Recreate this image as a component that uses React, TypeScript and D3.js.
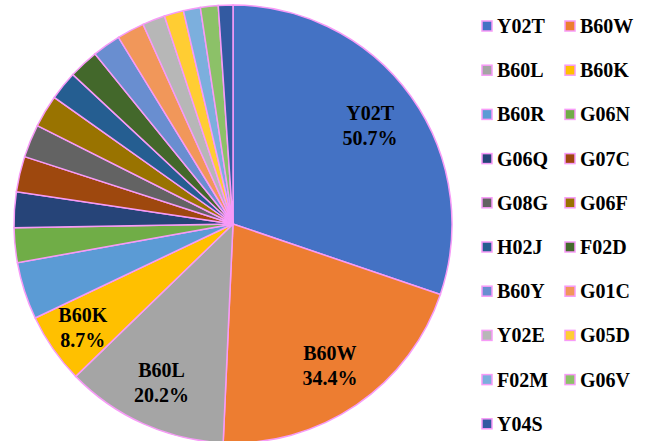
import React from "react";
import { pie, arc, PieArcDatum } from "d3";

const categories = [
  "Y02T", "B60W", "B60L", "B60K", "B60R", "G06N", "G06Q", "G07C", "G08G", "G06F",
  "H02J", "F02D", "B60Y", "G01C", "Y02E", "G05D", "F02M", "G06V", "Y04S",
];
const values = [
  50.7, 34.4, 20.2, 8.7, 7.1, 4.3, 4.4, 4.4, 4.1, 4.0,
  3.6, 3.7, 3.5, 3.4, 2.8, 2.4, 2.1, 2.2, 1.8,
];
const colors = [
  "#4472C4", "#ED7D31", "#A5A5A5", "#FFC000", "#5B9BD5", "#70AD47", "#264478", "#9E480E", "#636363", "#997300",
  "#255E91", "#43682B", "#698ED0", "#F1975A", "#B7B7B7", "#FFCD33", "#7CAFDD", "#8CC168", "#335AA1",
];
// only the four biggest slices carry a label
const labelled = ["Y02T", "B60W", "B60L", "B60K"];
const labelText = ["50.7%", "34.4%", "20.2%", "8.7%"];

const width = 651;
const height = 441;
const cx = 233;
const cy = 224;
const radius = 219;
const edge = "#F79BF7";
const font = "'Liberation Serif', 'DejaVu Serif', serif";
// how far out (fraction of radius) each label sits
const labelPos = [0.77, 0.785, 0.795, 0.835];

type Row = { name: string; value: number; color: string };

const rows: Row[] = categories.map((name, i) => ({ name, value: values[i], color: colors[i] }));

export default function App() {
  const slices = pie<Row>().sort(null).value((d) => d.value)(rows);
  const path = arc<PieArcDatum<Row>>().innerRadius(0).outerRadius(radius);

  const legendX = [481, 564];
  const rowGap = 44.2;

  return (
    <svg
      width={width}
      height={height}
      style={{ position: "absolute", left: 0, top: 0, background: "#fff" }}
      fontFamily={font}
    >
      <g transform={`translate(${cx},${cy})`}>
        {slices.map((s) => (
          <path key={s.data.name} d={path(s) ?? ""} fill={s.data.color} stroke={edge} strokeWidth={1.5} />
        ))}
        {slices
          .filter((s) => labelled.includes(s.data.name))
          .map((s) => {
            const k = labelled.indexOf(s.data.name);
            const r = radius * labelPos[k];
            const [x, y] = arc<PieArcDatum<Row>>().innerRadius(r).outerRadius(r).centroid(s);
            return (
              <text
                key={s.data.name}
                x={x}
                y={y}
                textAnchor="middle"
                fontWeight="bold"
                fontSize={20}
                fill="#000"
              >
                <tspan x={x} dy={-6}>{s.data.name}</tspan>
                <tspan x={x} dy={25}>{labelText[k]}</tspan>
              </text>
            );
          })}
      </g>
      <g>
        {rows.map((r, i) => {
          const col = i % 2;
          const row = Math.floor(i / 2);
          const base = 33 + row * rowGap;
          return (
            <g key={r.name}>
              <rect
                x={legendX[col] + 1}
                y={base - 12}
                width={10}
                height={10}
                fill={r.color}
                stroke={edge}
                strokeWidth={1.5}
              />
              <text x={legendX[col] + 16} y={base} fontWeight="bold" fontSize={20} fill="#000">
                {r.name}
              </text>
            </g>
          );
        })}
      </g>
    </svg>
  );
}
